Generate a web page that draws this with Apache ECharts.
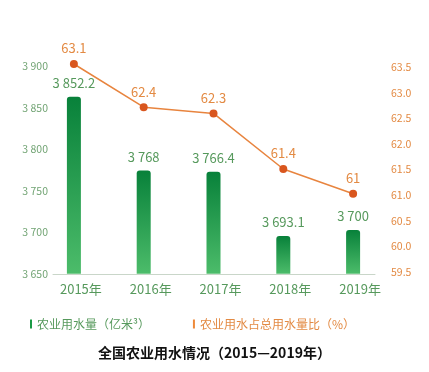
<!DOCTYPE html>
<html>
<head>
<meta charset="utf-8">
<script src="https://cdn.jsdelivr.net/npm/echarts@6/dist/echarts.min.js"></script>
<style>
html,body{margin:0;padding:0;background:#fff;}
#chart{width:429px;height:372px;}
</style>
</head>
<body>
<div id="chart"></div>
<script>
// ---- data ----
const categories = ['2015年', '2016年', '2017年', '2018年', '2019年'];
const waterUse = [3852.2, 3768, 3766.4, 3693.1, 3700];       // 亿米³
const waterShare = [63.1, 62.4, 62.3, 61.4, 61];              // %
const leftTicks = [3650, 3700, 3750, 3800, 3850, 3900];
const rightTicks = [59.5, 60.0, 60.5, 61.0, 61.5, 62.0, 62.5, 63.0, 63.5];
const seriesNames = ['农业用水量（亿米³）', '农业用水占总用水量比（%）'];
const chartTitle = '全国农业用水情况（2015—2019年）';

const FONT = '"Noto Sans CJK SC", "Noto Sans", sans-serif';
const GREEN_TXT = '#56995c';
const GREEN_AX = '#72a474';
const ORANGE_TXT = '#e38a43';

function spaced(v) {
  const s = String(v);
  const parts = s.split('.');
  const intPart = parts[0].replace(/\B(?=(\d{3})+(?!\d))/g, ' ');
  return parts.length > 1 ? intPart + '.' + parts[1] : intPart;
}

const chart = echarts.init(document.getElementById('chart'), null, {renderer: 'canvas'});

const hiddenX = (gi) => ({
  type: 'category', gridIndex: gi, data: categories,
  axisLine: {show: false}, axisTick: {show: false}, axisLabel: {show: false}, splitLine: {show: false}
});

const option = {
  backgroundColor: '#ffffff',
  animation: false,
  textStyle: {fontFamily: FONT},
  title: {
    text: chartTitle,
    left: 'center',
    top: 341,
    textStyle: {fontFamily: FONT, fontSize: 14, fontWeight: 'bold', color: '#111'}
  },
  legend: {
    left: 25,
    top: 313,
    itemWidth: 2,
    itemHeight: 9,
    itemGap: 43,
    icon: 'rect',
    data: [
      {name: seriesNames[0], itemStyle: {color: '#1a9a45'}, textStyle: {color: GREEN_TXT}},
      {name: seriesNames[1], itemStyle: {color: '#ee8a3a'}, textStyle: {color: ORANGE_TXT}}
    ],
    textStyle: {fontFamily: FONT, fontSize: 12}
  },
  grid: [
    {left: 53, right: 54, top: 66, bottom: 98},      // left axis labels + baseline
    {left: 53, right: 46, top: 67, bottom: 100},     // right axis labels
    {left: 39, right: 41, top: 54.8, bottom: 98.2},  // bars
    {left: 39, right: 41, top: 39.3, bottom: 85.7}   // line
  ],
  xAxis: [
    {
      type: 'category', gridIndex: 0, data: categories,
      axisLine: {show: true, lineStyle: {color: '#c9d6c9', width: 1}},
      axisTick: {show: false}, axisLabel: {show: false}
    },
    hiddenX(1),
    {
      type: 'category', gridIndex: 2, data: categories,
      axisLine: {show: false}, axisTick: {show: false},
      axisLabel: {color: GREEN_TXT, fontSize: 13, fontFamily: FONT, margin: 9, padding: [0, 0, 0, 14]}
    },
    hiddenX(3)
  ],
  yAxis: [
    {
      type: 'value', gridIndex: 0,
      min: leftTicks[0], max: leftTicks[leftTicks.length - 1], interval: leftTicks[1] - leftTicks[0],
      axisLine: {show: false}, axisTick: {show: false}, splitLine: {show: false},
      axisLabel: {color: GREEN_AX, fontSize: 10.5, fontFamily: FONT, margin: 5, formatter: v => spaced(v)}
    },
    {
      type: 'value', gridIndex: 1, position: 'right',
      min: rightTicks[0], max: rightTicks[rightTicks.length - 1], interval: rightTicks[1] - rightTicks[0],
      axisLine: {show: false}, axisTick: {show: false}, splitLine: {show: false},
      axisLabel: {color: ORANGE_TXT, fontSize: 10.5, fontFamily: FONT, margin: 8, formatter: v => v.toFixed(1)}
    },
    {
      type: 'value', gridIndex: 2, min: leftTicks[0], max: leftTicks[leftTicks.length - 1],
      show: false
    },
    {
      type: 'value', gridIndex: 3, min: rightTicks[0], max: rightTicks[rightTicks.length - 1],
      show: false
    }
  ],
  series: [
    {
      name: seriesNames[0],
      type: 'bar',
      xAxisIndex: 2, yAxisIndex: 2,
      data: waterUse,
      barWidth: 14,
      itemStyle: {
        borderRadius: [3, 3, 0, 0],
        color: new echarts.graphic.LinearGradient(0, 0, 0, 1, [
          {offset: 0, color: '#08813a'},
          {offset: 1, color: '#4cbc6a'}
        ])
      },
      label: {
        show: true, position: 'top', distance: 7,
        color: GREEN_TXT, fontSize: 13, fontFamily: FONT,
        formatter: p => spaced(p.value)
      }
    },
    {
      name: seriesNames[1],
      type: 'line',
      xAxisIndex: 3, yAxisIndex: 3,
      data: waterShare,
      clip: false,
      symbol: 'circle',
      symbolSize: 8,
      lineStyle: {color: '#e8843e', width: 1.5},
      itemStyle: {color: '#d9561e'},
      label: {
        show: true, position: 'top', distance: 5,
        color: ORANGE_TXT, fontSize: 13, fontFamily: FONT,
        formatter: p => String(p.value)
      }
    }
  ]
};

chart.setOption(option);
</script>
</body>
</html>
